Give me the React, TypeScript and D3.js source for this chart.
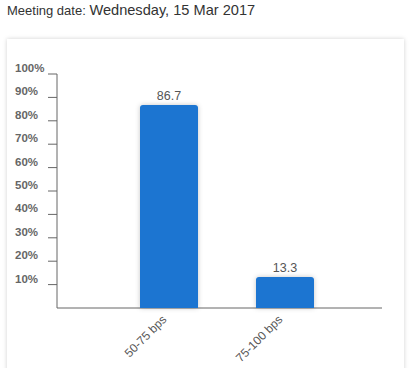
import React from "react";
import * as d3 from "d3";

const categories = ["50-75 bps", "75-100 bps"];
const probabilities = [86.7, 13.3];
const yTicks = [10, 20, 30, 40, 50, 60, 70, 80, 90, 100];

const W = 412;
const H = 368;
const FONT = "'Liberation Sans', Arial, sans-serif";

export default function App() {
  const y = d3.scaleLinear().domain([0, 100]).range([308, 74]);
  const x = d3
    .scaleBand<string>()
    .domain(categories)
    .range([111, 343])
    .paddingInner(0.5)
    .paddingOuter(0.25);

  const axisX0 = 57;
  const axisX1 = 382;
  const base = y(0);

  return (
    <div style={{ position: "absolute", left: 0, top: 0, width: W, height: H, overflow: "hidden", background: "#fff" }}>
      <svg width={W} height={H} style={{ display: "block" }}>
        <defs>
          <filter id="cardShadow" x="-5%" y="-5%" width="110%" height="110%">
            <feDropShadow dx="0" dy="0" stdDeviation="2" floodColor="#000" floodOpacity="0.18" />
          </filter>
          <filter id="barShadow" x="-30%" y="-30%" width="160%" height="160%">
            <feDropShadow dx="0" dy="0" stdDeviation="2.5" floodColor="#000" floodOpacity="0.22" />
          </filter>
        </defs>

        <text x={7} y={15} fontFamily={FONT} fill="#333">
          <tspan fontSize={13}>Meeting date: </tspan>
          <tspan fontSize={14.6}>Wednesday, 15 Mar 2017</tspan>
        </text>

        <rect x={7} y={39} width={397} height={360} fill="#fff" filter="url(#cardShadow)" />

        {/* y axis */}
        <line x1={axisX0} x2={axisX0} y1={y(100)} y2={base} stroke="#666" strokeWidth={1} />
        {yTicks.map((t) => (
          <g key={t}>
            <line x1={axisX0 - 9} x2={axisX0} y1={y(t)} y2={y(t)} stroke="#666" strokeWidth={1} />
            <text
              x={15}
              y={y(t) - 2}
              textAnchor="start"
              fontFamily={FONT}
              fontSize={11.5}
              fontWeight="bold"
              fill="#666"
            >
              {t}%
            </text>
          </g>
        ))}

        {/* x axis */}
        <line x1={axisX0} x2={axisX1} y1={base} y2={base} stroke="#666" strokeWidth={1} />

        {categories.map((c, i) => {
          const bx = x(c)!;
          const bw = x.bandwidth();
          const top = y(probabilities[i]);
          const cx = bx + bw / 2;
          const r = 3;
          const path = `M${bx},${base} V${top + r} Q${bx},${top} ${bx + r},${top} H${bx + bw - r} Q${bx + bw},${top} ${bx + bw},${top + r} V${base} Z`;
          return (
            <g key={c}>
              <path d={path} fill="#1a75d1" filter="url(#barShadow)" />
              <text
                x={cx}
                y={top - 5}
                textAnchor="middle"
                fontFamily={FONT}
                fontSize={12.5}
                fill="#555"
              >
                {probabilities[i].toFixed(1)}
              </text>
              <text
                transform={`translate(${cx - 4},${base + 10}) rotate(-45)`}
                textAnchor="end"
                dominantBaseline="middle"
                fontFamily={FONT}
                fontSize={12}
                fill="#555"
              >
                {c}
              </text>
            </g>
          );
        })}
      </svg>
    </div>
  );
}
